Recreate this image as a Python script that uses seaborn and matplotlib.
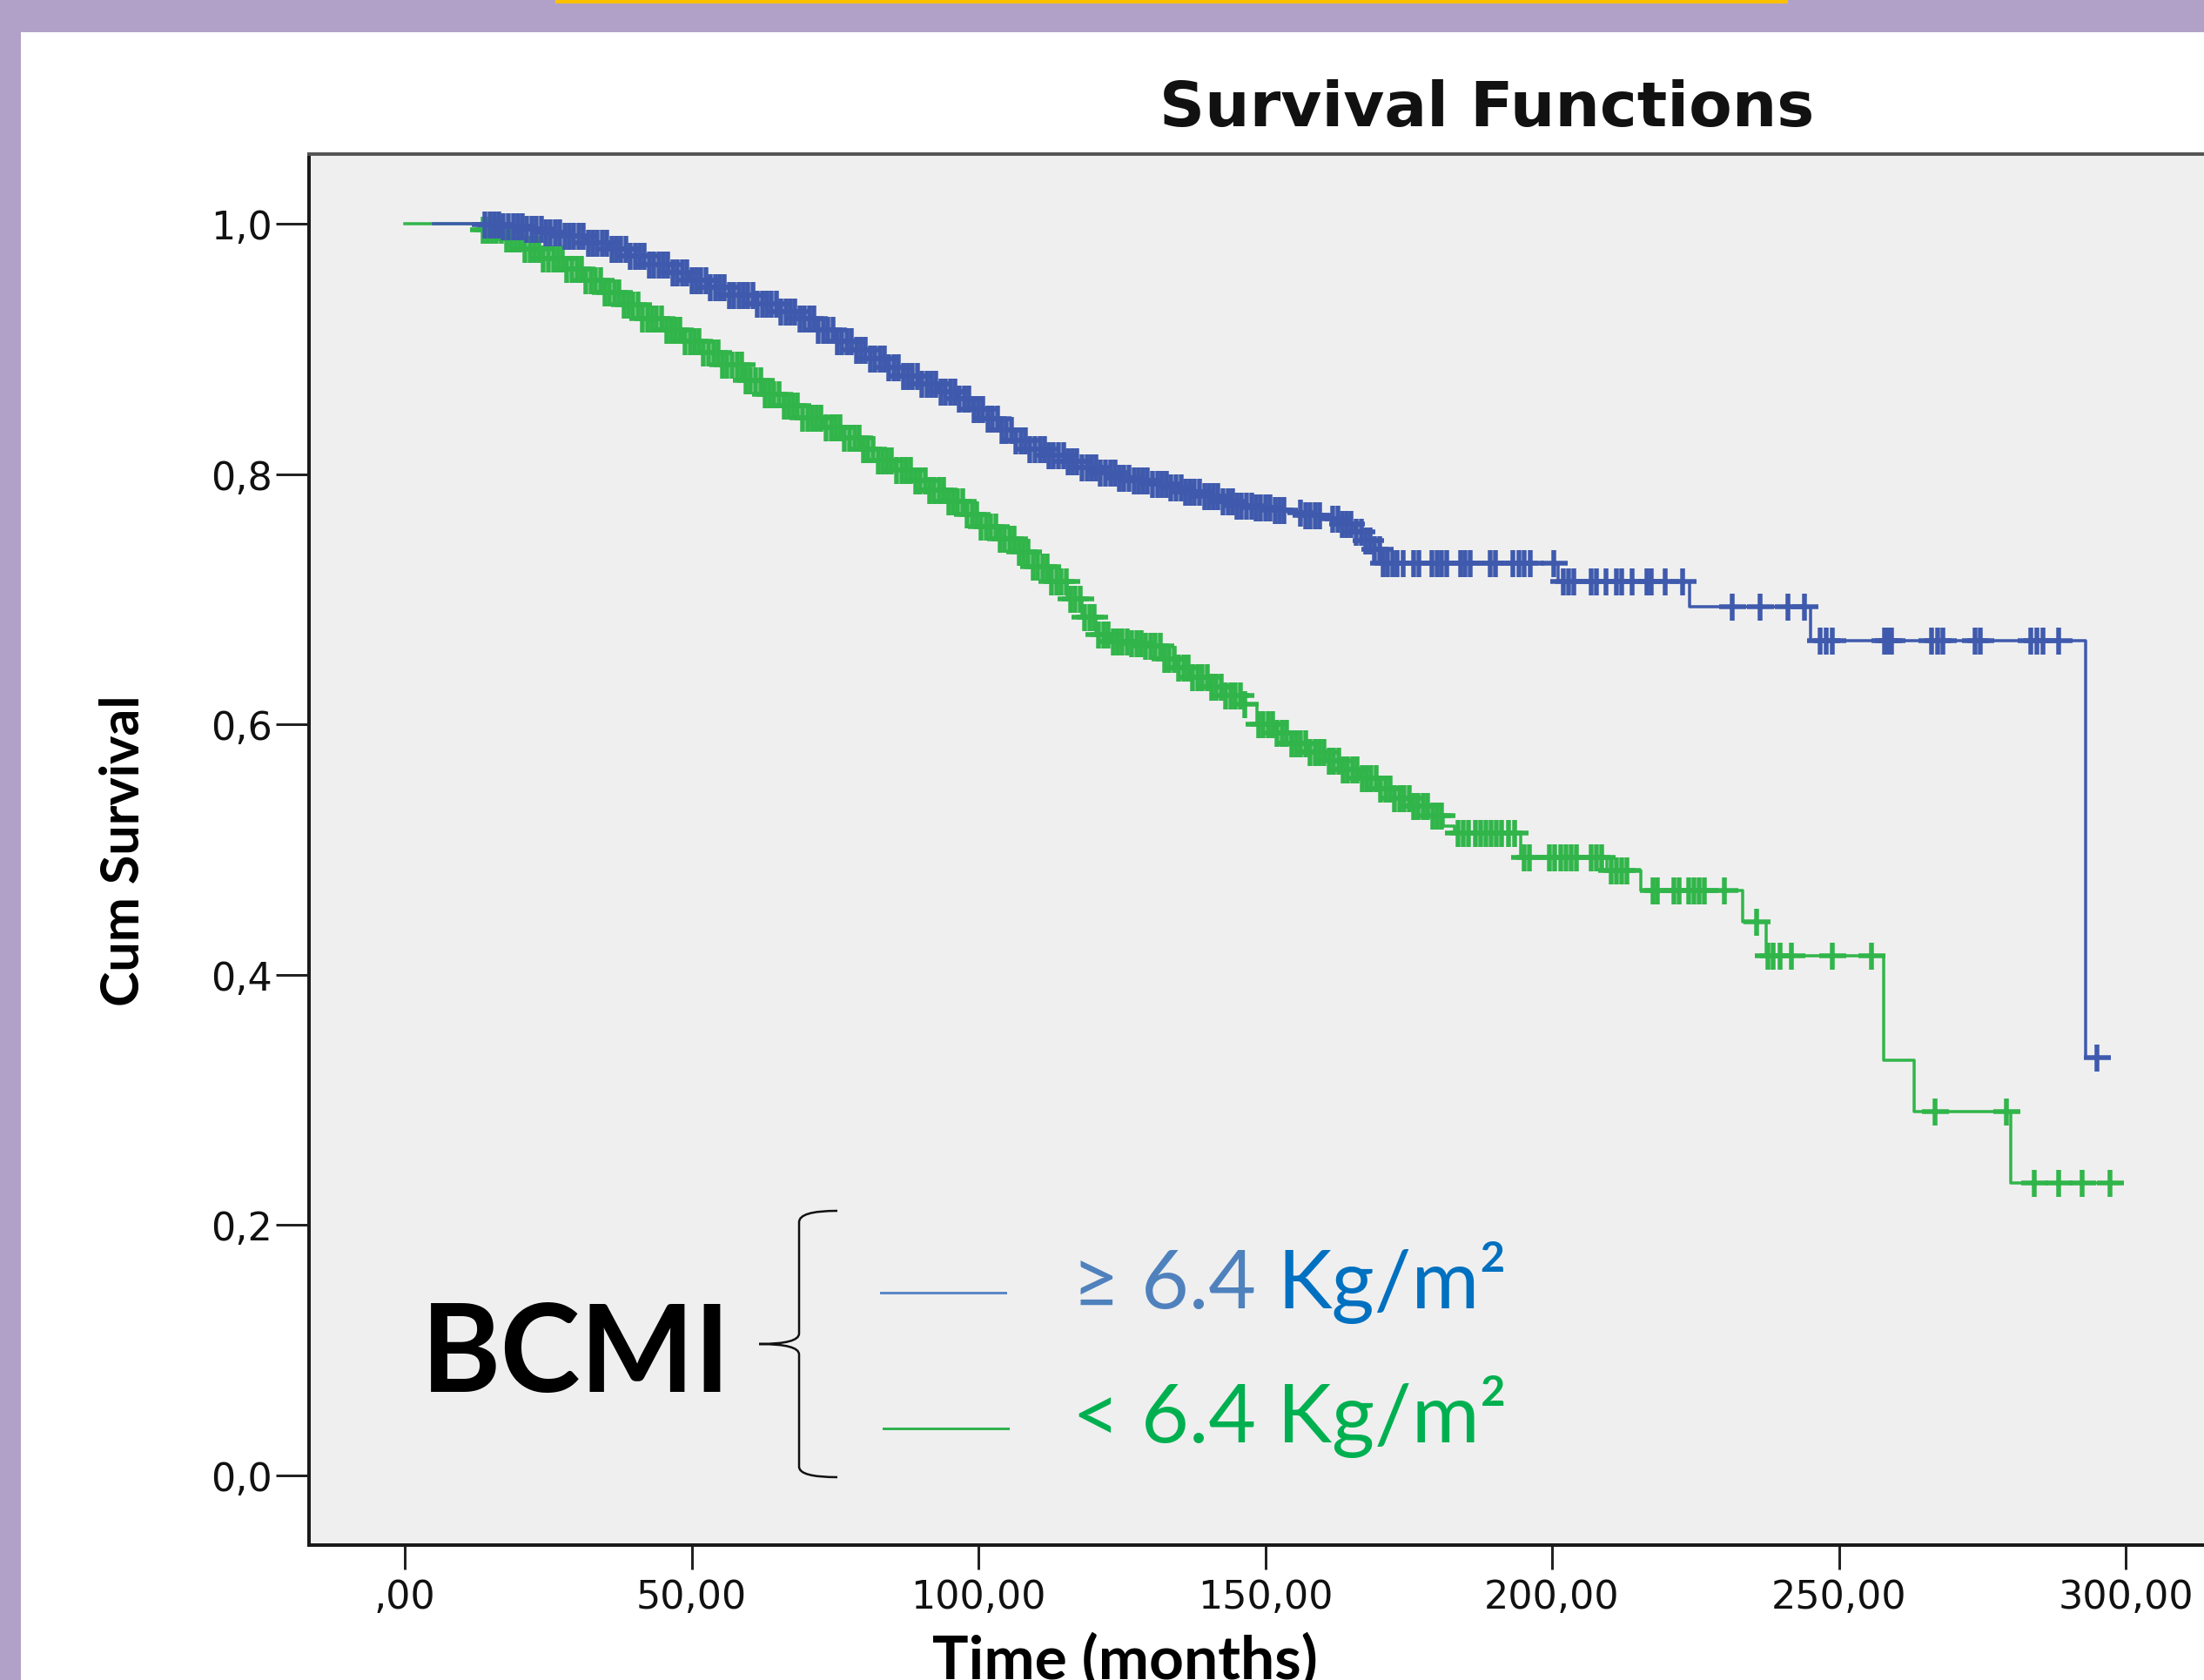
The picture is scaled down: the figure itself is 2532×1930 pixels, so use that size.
import numpy as np
import pandas as pd
import matplotlib
matplotlib.use("Agg")
import matplotlib.pyplot as plt
import seaborn as sns
from matplotlib.patches import Rectangle, PathPatch
from matplotlib.path import Path
from matplotlib.lines import Line2D

# ---------------- data ----------------
x_ticks = [0, 50, 100, 150, 200, 250, 300]
x_tick_labels = [",00", "50,00", "100,00", "150,00", "200,00", "250,00", "300,00"]
y_ticks = [0.0, 0.2, 0.4, 0.6, 0.8, 1.0]
y_tick_labels = ["0,0", "0,2", "0,4", "0,6", "0,8", "1,0"]

# BCMI >= 6.4 (blue): step curve (time, survival after the step)
blue_event_t = [5, 13.7, 17, 20.6, 24, 27.6, 31.5, 35.7, 39, 42.6, 46, 49.6, 53, 56.6, 61.3,
                65, 68.3, 71.5, 75.1, 78, 81, 84, 86.8, 90, 93, 96, 99, 101.5, 104, 106.5,
                109, 112, 115, 118, 121, 124, 127, 130, 133, 136, 139, 142, 145, 148, 151,
                154, 157, 160, 163, 165.5, 167.5, 169, 170.5, 201, 224, 245, 293]
blue_event_s = [1.0, 0.999, 0.998, 0.996, 0.993, 0.990, 0.985, 0.980, 0.974, 0.967, 0.961,
                0.955, 0.949, 0.943, 0.936, 0.930, 0.924, 0.915, 0.906, 0.899, 0.892, 0.885,
                0.878, 0.872, 0.866, 0.860, 0.852, 0.844, 0.835, 0.827, 0.820, 0.815, 0.810,
                0.805, 0.801, 0.797, 0.795, 0.792, 0.789, 0.786, 0.782, 0.778, 0.775, 0.773,
                0.771, 0.769, 0.767, 0.764, 0.760, 0.754, 0.747, 0.740, 0.729, 0.714, 0.694,
                0.667, 0.334]
blue_censor_t = [14, 14.8, 15.6, 16.4, 17.2, 18, 18.9, 19.7, 20.5, 21.3, 22.1, 22.9, 23.8,
                 24.6, 25.4, 26.2, 27, 27.9, 28.7, 29.5, 30.3, 31.1, 32, 32.8, 33.6, 34.4,
                 35.2, 36.1, 36.9, 37.7, 38.5, 39.3, 40.2, 41, 41.8, 42.6, 43.4, 44.3, 45.1,
                 45.9, 46.7, 47.5, 48.4, 49.2, 50, 50.8, 51.6, 52.5, 53.3, 54.1, 54.9, 55.7,
                 56.6, 57.4, 58.2, 59, 59.8, 60.7, 61.5, 62.3, 63.1, 63.9, 64.8, 65.6, 66.4,
                 67.2, 68, 68.9, 69.7, 70.5, 71.3, 72.1, 73, 73.8, 74.6, 75.4, 76.2, 77.1,
                 77.9, 78.7, 79.5, 80.3, 81.2, 82, 82.8, 83.6, 84.4, 85.3, 86.1, 86.9, 87.7,
                 88.5, 89.4, 90.2, 91, 91.8, 92.6, 93.5, 94.3, 95.1, 95.9, 96.7, 97.6, 98.4,
                 99.2, 100, 100.8, 101.7, 102.5, 103.3, 104.1, 104.9, 105.8, 106.6, 107.4,
                 108.2, 109, 109.9, 110.7, 111.5, 112.3, 113.1, 114, 114.8, 115.6, 116.4,
                 117.2, 118.1, 118.9, 119.7, 120.5, 121.3, 122.2, 123, 123.8, 124.6, 125.4,
                 126.3, 127.1, 127.9, 128.7, 129.5, 130.4, 131.2, 132, 132.8, 133.6, 134.5,
                 135.3, 136.1, 136.9, 137.7, 138.6, 139.4, 140.2, 141, 141.8, 142.7, 143.5,
                 144.3, 145.1, 145.9, 146.8, 147.6, 148.4, 149.2, 150, 150.9, 151.7, 152.5,
                 153.3, 156.2, 157, 157.8, 158.7, 159.5, 161.8, 162.6, 163.4, 164.2, 165,
                 165.9, 166.7, 167.5, 168.3, 169.1, 169.9,
                 170.5, 171.3, 172.2, 173, 174, 175.8, 176.8, 179, 179.9, 180.8, 181.7, 184,
                 184.9, 185.8, 189.2, 190.2, 193.2, 194.2, 195.2, 196.2, 200.3,
                 202, 202.9, 203.8, 206.8, 207.7, 209.4, 211.3, 212.2, 213.9, 216.6, 217.3,
                 219.8, 222.7,
                 231.4, 236.3, 241.1, 244,
                 246.7, 247.8, 248.9, 257.9, 258.6, 259.2, 266.2, 267.2, 268.2, 273.8, 274.6,
                 283.4, 284.5, 285.6, 288.3,
                 295]

# BCMI < 6.4 (green)
green_event_t = [0, 13, 17, 20.6, 24, 27.6, 31, 34.6, 38, 41.4, 45, 48.4, 52, 55.4, 59, 62.4,
                 66, 69.3, 73, 76.3, 79.5, 82.5, 85.5, 88.5, 91.5, 94.5, 97.5, 100.5, 103.5,
                 106.5, 109.5, 112.5, 115.5, 118, 120.5, 123, 126, 129, 132, 134.5, 137, 140,
                 143, 146, 148.5, 151.5, 154.5, 157.5, 160.5, 163.5, 166.5, 169.5, 172.5,
                 175.5, 178.5, 181, 183, 194.6, 209.5, 215.5, 233.2, 237.3, 257.8, 263.1, 280]
green_event_s = [1.0, 0.995, 0.988, 0.980, 0.972, 0.964, 0.955, 0.945, 0.935, 0.924, 0.915,
                 0.906, 0.897, 0.887, 0.875, 0.864, 0.855, 0.845, 0.837, 0.829, 0.820, 0.811,
                 0.803, 0.795, 0.787, 0.778, 0.768, 0.758, 0.748, 0.738, 0.726, 0.714, 0.700,
                 0.686, 0.672, 0.666, 0.665, 0.663, 0.652, 0.645, 0.638, 0.630, 0.623, 0.616,
                 0.600, 0.593, 0.585, 0.578, 0.571, 0.564, 0.557, 0.549, 0.541, 0.535, 0.527,
                 0.519, 0.513, 0.494, 0.483, 0.467, 0.442, 0.415, 0.332, 0.291, 0.234]
green_censor_t = [13.6, 14.4, 15.2, 16, 16.9, 17.7, 18.5, 19.3, 20.1, 21, 21.8, 22.6, 23.4,
                  24.2, 25.1, 25.9, 26.7, 27.5, 28.3, 29.2, 30, 30.8, 31.6, 32.4, 33.3, 34.1,
                  34.9, 35.7, 36.5, 37.4, 38.2, 39, 39.8, 40.6, 41.5, 42.3, 43.1, 43.9, 44.7,
                  45.6, 46.4, 47.2, 48, 48.8, 49.7, 50.5, 51.3, 52.1, 52.9, 53.8, 54.6, 55.4,
                  56.2, 57, 57.9, 58.7, 59.5, 60.3, 61.1, 62, 62.8, 63.6, 64.4, 65.2, 66.1,
                  66.9, 67.7, 68.5, 69.3, 70.2, 71, 71.8, 72.6, 73.4, 74.3, 75.1, 75.9, 76.7,
                  77.5, 78.4, 79.2, 80, 80.8, 81.6, 82.5, 83.3, 84.1, 84.9, 85.7, 86.6, 87.4,
                  88.2, 89, 89.8, 90.7, 91.5, 92.3, 93.1, 93.9, 94.8, 95.6, 96.4, 97.2, 98,
                  98.9, 99.7, 100.5, 101.3, 102.1, 103, 103.8, 104.6, 105.4, 106.2, 107.1,
                  107.9, 108.7, 109.5, 110.3, 111.2, 112, 112.8, 113.6, 114.4, 115.3, 116.1,
                  116.9, 117.7, 118.5, 119.4, 120.2, 121, 121.8, 122.6, 123.5, 124.3, 125.1,
                  125.9, 126.7, 127.6, 128.4, 129.2, 130, 130.8, 131.7, 132.5, 133.3, 134.1,
                  134.9, 135.8, 136.6, 137.4, 138.2, 139, 139.9, 140.7, 141.5, 142.3, 143.1,
                  144, 144.8, 145.6, 146.4, 148.8, 149.6, 150.5, 151.3, 152.1, 152.9, 153.7,
                  154.6, 155.4, 156.2, 157, 157.8, 158.7, 159.5, 160.3, 161.1, 161.9, 162.8,
                  163.6, 164.4, 165.2, 166, 166.9, 167.7, 168.5, 169.3, 170.1, 171, 171.8,
                  172.6, 173.4, 174.2, 175.1, 175.9, 176.7, 177.5, 178.3, 179.2, 180, 180.8,
                  183.6, 184.5, 185.4, 186.6, 187.5, 188.4, 189.4, 190.3, 191.2, 192.4, 193.4,
                  195.2, 196.1, 199.6, 200.5, 201.5, 202.4, 203.4, 204.2, 206.8, 207.7, 208.6,
                  210.3, 211.2, 212.2, 213,
                  217.6, 218.4, 221.3, 222.1, 223.8, 224.7, 225.6, 226.6, 230,
                  235.7,
                  237.7, 238.5, 239.8, 241.8, 248.8, 255.7,
                  266.8, 279.2,
                  284, 288.3, 292.4, 297.3]

title_text = "Survival Functions"
x_label = "Time (months)"
y_label = "Cum Survival"
legend_title = "BCMI"
legend_blue_a, legend_blue_b = "\u2265 6.4 ", "Kg/m\u00b2"
legend_green = "< 6.4 Kg/m\u00b2"

# ---------------- styling ----------------
W, H = 2532, 1931
DPI = 100
PT = 72 / DPI  # points per pixel

def fx(px):
    return px / W

def fy(py):
    return 1 - py / H

BLUE = "#3f5aad"
GREEN = "#31b54a"

fig = plt.figure(figsize=(W / DPI, H / DPI), dpi=DPI, facecolor="#b1a1c9")
# white panel and yellow strip (behind everything)
fig.patches.append(Rectangle((fx(24), 0), 1 - fx(24), fy(38), transform=fig.transFigure,
                             facecolor="white", edgecolor="none", zorder=-10))
fig.patches.append(Rectangle((fx(638), fy(5)), fx(2054) - fx(638), 1 - fy(5),
                             transform=fig.transFigure, facecolor="#ffc000",
                             edgecolor="none", zorder=-10))

# axes placement: x=0 at px 465, 6.59 px/month; y=1 at 258, y=0 at 1696
left_px, top_px, bot_px = 355, 178, 1776
x0_px, ppu_x = 465, 6.59
y1_px, y0_px = 258, 1696
ppu_y = y0_px - y1_px
xmin = (left_px - x0_px) / ppu_x
xmax = 320.0
right_px = x0_px + xmax * ppu_x
ymax = 1 + (y1_px - top_px) / ppu_y
ymin = -(bot_px - y0_px) / ppu_y

ax = fig.add_axes([fx(left_px), fy(bot_px), fx(right_px) - fx(left_px), fy(top_px) - fy(bot_px)])
ax.set_zorder(1)
ax.set_facecolor("#efefef")


def step_frame(ev_t, ev_s, cens_t):
    ev_t = np.asarray(ev_t, float)
    ev_s = np.asarray(ev_s, float)
    end = max(ev_t.max(), max(cens_t))
    t = np.append(ev_t, end)
    s = np.append(ev_s, ev_s[-1])
    return pd.DataFrame({"t": t, "s": s})


def censor_frame(ev_t, ev_s, cens_t):
    ev_t = np.asarray(ev_t, float)
    ev_s = np.asarray(ev_s, float)
    c = np.asarray(cens_t, float)
    idx = np.searchsorted(ev_t, c, side="right") - 1
    idx = np.clip(idx, 0, len(ev_s) - 1)
    return pd.DataFrame({"t": c, "s": ev_s[idx]})


lw = 3.5 * PT
for ev_t, ev_s, cens, col in [(green_event_t, green_event_s, green_censor_t, GREEN),
                              (blue_event_t, blue_event_s, blue_censor_t, BLUE)]:
    sf = step_frame(ev_t, ev_s, cens)
    sns.lineplot(data=sf, x="t", y="s", ax=ax, color=col, linewidth=lw,
                 drawstyle="steps-post", estimator=None, sort=False, zorder=3)
    cf = censor_frame(ev_t, ev_s, cens)
    sns.scatterplot(data=cf, x="t", y="s", ax=ax, color=col, marker="+",
                    s=(31 * PT) ** 2, linewidth=5.5 * PT, zorder=4)

ax.set_xlim(xmin, xmax)
ax.set_ylim(ymin, ymax)
ax.set_xticks(x_ticks)
ax.set_xticklabels(x_tick_labels)
ax.set_yticks(y_ticks)
ax.set_yticklabels(y_tick_labels)
ax.set_xlabel("")
ax.set_ylabel("")

for sp in ["left", "bottom", "top", "right"]:
    ax.spines[sp].set_color("#1a1a1a")
    ax.spines[sp].set_linewidth(4 * PT)
ax.spines["top"].set_color("#555555")

ax.tick_params(axis="y", direction="out", length=38 * PT, width=3 * PT, color="#222222",
               pad=3, labelsize=32, labelcolor="#111111")
ax.tick_params(axis="x", direction="out", length=28 * PT, width=3 * PT, color="#222222",
               pad=7, labelsize=32, labelcolor="#111111")
for lab in ax.get_xticklabels() + ax.get_yticklabels():
    lab.set_family("DejaVu Sans")

# title and axis labels
fig.text(fx(1708), fy(126), title_text, ha="center", va="center", fontsize=52,
         fontweight="bold", family="DejaVu Sans", color="#111111")
fig.text(fx(142), fy(977), y_label, ha="center", va="center", rotation=90, fontsize=44,
         fontweight="bold", family="Lato", color="black")
fig.text(fx(1292), fy(1929), x_label, ha="center", va="baseline", fontsize=50,
         fontweight="bold", family="Lato", color="black")

# custom legend (drawn above the axes)
fig.text(fx(484), fy(1599), legend_title, ha="left", va="baseline", fontsize=100,
         fontweight="bold", family="Lato", color="black", zorder=10)

verts = [(962, 1392), (918, 1392), (918, 1405),
         (918, 1533),
         (918, 1545), (872, 1545),
         (918, 1545), (918, 1557),
         (918, 1686),
         (918, 1698), (962, 1698)]
codes = [Path.MOVETO, Path.CURVE3, Path.CURVE3, Path.LINETO, Path.CURVE3, Path.CURVE3,
         Path.CURVE3, Path.CURVE3, Path.LINETO, Path.CURVE3, Path.CURVE3]
brace = Path([(fx(a), fy(b)) for a, b in verts], codes)
fig.patches.append(PathPatch(brace, transform=fig.transFigure, facecolor="none",
                             edgecolor="#111111", linewidth=2.5 * PT, zorder=10))

fig.lines.append(Line2D([fx(1012), fx(1155)], [fy(1486), fy(1486)], transform=fig.transFigure,
                        color="#5b87c8", linewidth=3 * PT, zorder=10))
fig.lines.append(Line2D([fx(1015), fx(1158)], [fy(1642), fy(1642)], transform=fig.transFigure,
                        color="#2fb350", linewidth=3 * PT, zorder=10))

t1 = fig.text(fx(1232), fy(1503), legend_blue_a, ha="left", va="baseline", fontsize=68,
              family=["Lato", "DejaVu Sans"], color="#4f81bd", zorder=10)
fig.canvas.draw()
bb = t1.get_window_extent()
fig.text(bb.x1 / W, fy(1503), legend_blue_b, ha="left", va="baseline", fontsize=68,
         family=["Lato", "DejaVu Sans"], color="#0070c0", zorder=10)
fig.text(fx(1232), fy(1657), legend_green, ha="left", va="baseline", fontsize=68,
         family=["Lato", "DejaVu Sans"], color="#00b050", zorder=10)

fig.savefig("out.png", dpi=DPI, facecolor=fig.get_facecolor())
